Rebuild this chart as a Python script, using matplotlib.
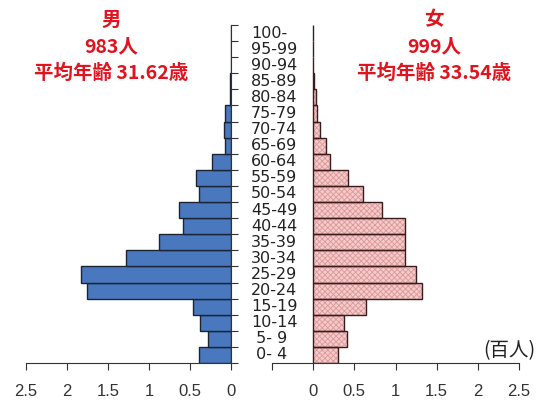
import matplotlib
matplotlib.use("Agg")
import matplotlib.pyplot as plt
import matplotlib.transforms as mtransforms
import numpy as np

ages = [" 0- 4", " 5- 9", "10-14", "15-19", "20-24", "25-29", "30-34",
        "35-39", "40-44", "45-49", "50-54", "55-59", "60-64", "65-69",
        "70-74", "75-79", "80-84", "85-89", "90-94", "95-99", "100-"]
male = [0.39, 0.28, 0.38, 0.46, 1.76, 1.83, 1.28, 0.88, 0.59, 0.63, 0.39,
        0.43, 0.23, 0.07, 0.09, 0.07, 0.01, 0.01, 0, 0, 0]
female = [0.30, 0.41, 0.38, 0.64, 1.32, 1.25, 1.12, 1.12, 1.11, 0.84, 0.61,
          0.42, 0.21, 0.15, 0.08, 0.05, 0.03, 0.01, 0, 0, 0]
male_title = ["男", "983人", "平均年齢 31.62歳"]
female_title = ["女", "999人", "平均年齢 33.54歳"]
xticks = [0, 0.5, 1, 1.5, 2, 2.5]
xlabels = ["0", "0.5", "1", "1.5", "2", "2.5"]

plt.rcParams["hatch.linewidth"] = 0.6

W, H = 539, 404
fig = plt.figure(figsize=(W / 100, H / 100), dpi=100)
y = np.arange(len(ages))

def frac(x0, y0, x1, y1):
    return [x0 / W, 1 - y1 / H, (x1 - x0) / W, (y1 - y0) / H]

axl = fig.add_axes(frac(26, 25, 231, 363))
axr = fig.add_axes(frac(272, 25, 519, 363))

axl.barh(y, male, height=1, color="#4a78be", edgecolor="#1c2433", linewidth=1)
# pink fill with fine cross hatch, then the dark outline on top
axr.barh(y, female, height=1, color="#f4caca", edgecolor="#dc9898",
         hatch="xxxxxx", linewidth=0)
axr.barh(y, female, height=1, fill=False, edgecolor="#3a1c1c", linewidth=1)

axl.set_xlim(2.5, 0)
axr.set_xlim(-0.5, 2.5)
for ax in (axl, axr):
    ax.set_ylim(-0.5, len(ages) - 0.5)
    ax.spines["top"].set_visible(False)
    ax.spines["left"].set_visible(False)
    ax.spines["bottom"].set_color("#333333")
    ax.tick_params(axis="x", direction="out", length=5, color="#333333",
                   pad=10, labelsize=12, labelcolor="#333333")

axl.spines["right"].set_color("#333333")
axl.set_xticks(xticks)
axl.set_xticklabels(xlabels, family="Liberation Sans")
axl.yaxis.tick_right()
axl.set_yticks(np.arange(-0.5, len(ages)))
axl.set_yticklabels([])
axl.tick_params(axis="y", direction="out", length=5, color="#333333")

axr.spines["right"].set_visible(False)
axr.set_xticks([-0.5] + xticks)
axr.set_xticklabels([""] + xlabels, family="Liberation Sans")
axr.set_yticks([])

trans = mtransforms.blended_transform_factory(fig.transFigure, axl.transData)
for i, a in enumerate(ages):
    fig.text(251 / W, i, a, transform=trans, ha="left", va="center",
             fontsize=11.5, color="#222222", family="DejaVu Sans")

red = "#e0141e"
cjk = ["Noto Sans CJK JP", "DejaVu Sans"]
for cx, lines in ((111, male_title), (434, female_title)):
    for ty, t in zip((20, 47, 73), lines):
        fig.text(cx / W, 1 - ty / H, t, ha="center", va="center",
                 fontsize=14, color=red, family=cjk, fontweight="bold")

fig.text(535 / W, 1 - 351 / H, "(百人)", ha="right", va="center",
         fontsize=14, color="#222222", family=cjk)

fig.savefig("out.png", dpi=100)
